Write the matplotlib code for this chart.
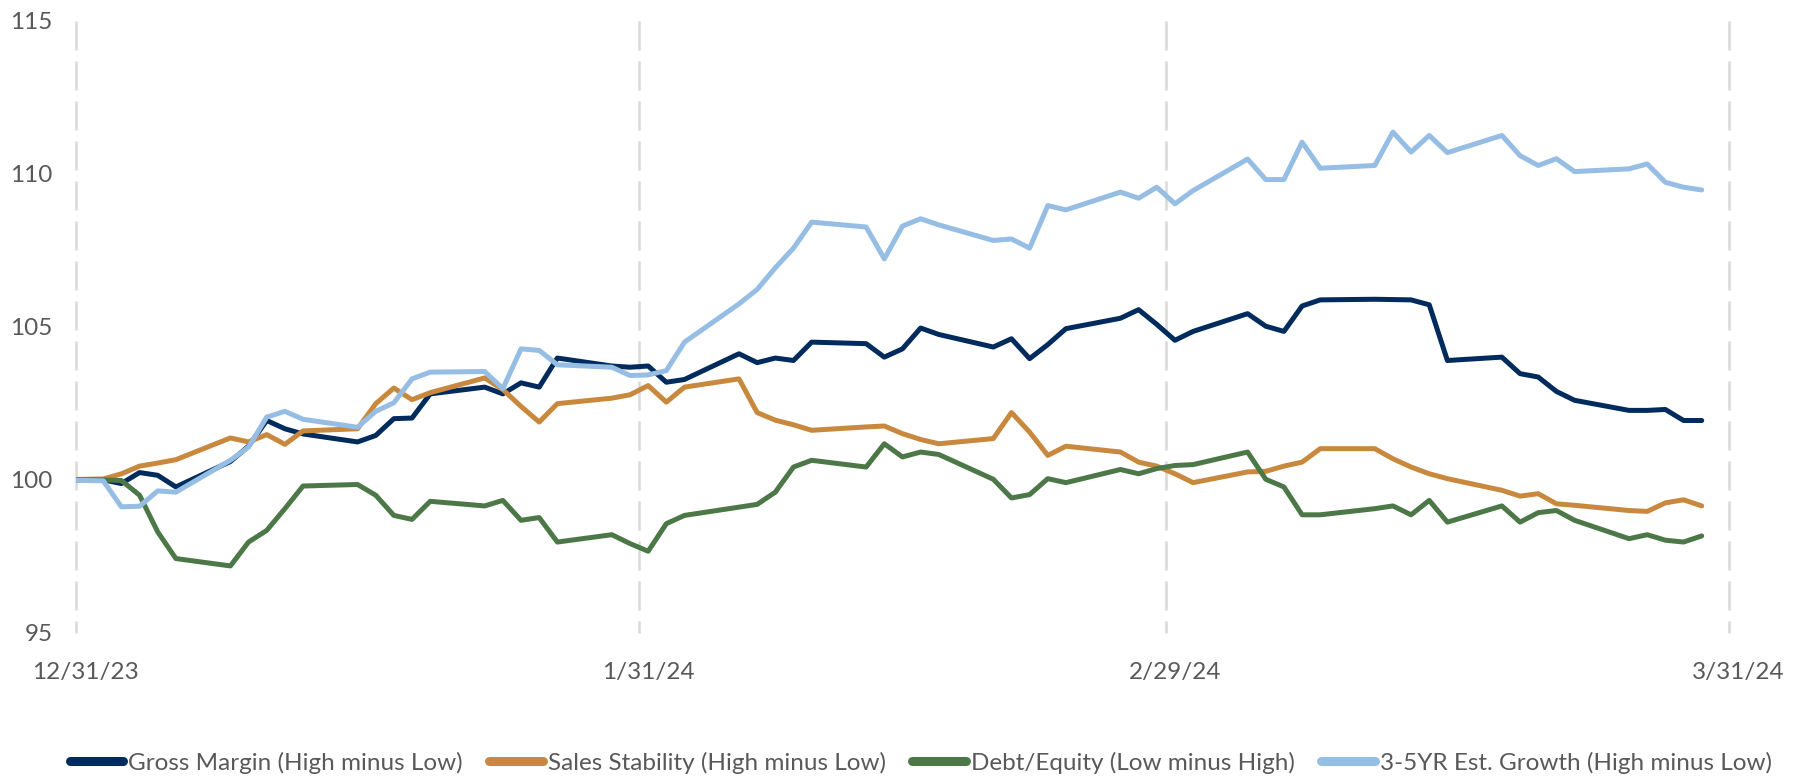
import pandas as pd
import numpy as np
import matplotlib
matplotlib.use("Agg")
import matplotlib.pyplot as plt
from matplotlib.lines import Line2D

# trading calendar: last close of 2023 + every weekday of Q1 2024
dates = pd.to_datetime(["2023-12-29"]).append(pd.bdate_range("2024-01-01", "2024-03-29"))

gross_margin = [
    100.0,
    100.0, 99.88, 100.24, 100.15, 99.77,
    100.6, 101.1, 101.94, 101.67, 101.5,
    101.24, 101.45, 102.0, 102.02, 102.81,
    103.03, 102.81, 103.17, 103.03, 103.98,
    103.72, 103.68, 103.72, 103.19, 103.28,
    104.12, 103.83, 103.98, 103.9, 104.5,
    104.45, 104.01, 104.28, 104.96, 104.75,
    104.34, 104.61, 103.96, 104.42, 104.94,
    105.28, 105.56, 105.08, 104.56, 104.85,
    105.43, 105.02, 104.85, 105.68, 105.88,
    105.9, 105.89, 105.88, 105.72, 103.9,
    104.01, 103.47, 103.36, 102.89, 102.6,
    102.27, 102.27, 102.3, 101.94, 101.94,
]
sales_stability = [
    100.0,
    100.03, 100.2, 100.45, 100.55, 100.66,
    101.37, 101.24, 101.48, 101.16, 101.6,
    101.67, 102.49, 103.0, 102.62, 102.85,
    103.33, 102.95, 102.4, 101.89, 102.49,
    102.67, 102.78, 103.08, 102.54, 103.03,
    103.3, 102.2, 101.95, 101.8, 101.62,
    101.73, 101.76, 101.51, 101.32, 101.18,
    101.35, 102.2, 101.56, 100.8, 101.1,
    100.91, 100.58, 100.45, 100.2, 99.91,
    100.26, 100.28, 100.45, 100.58, 101.02,
    101.02, 100.69, 100.42, 100.2, 100.04,
    99.66, 99.47, 99.55, 99.22, 99.17,
    99.0, 98.97, 99.25, 99.35, 99.15,
]
debt_equity = [
    100.0,
    100.0, 99.98, 99.5, 98.3, 97.43,
    97.19, 97.97, 98.35, 99.06, 99.8,
    99.85, 99.5, 98.84, 98.71, 99.3,
    99.15, 99.33, 98.68, 98.77, 97.97,
    98.21, 97.92, 97.67, 98.57, 98.84,
    99.11, 99.2, 99.6, 100.42, 100.64,
    100.42, 101.18, 100.75, 100.91, 100.83,
    100.02, 99.41, 99.52, 100.04, 99.91,
    100.34, 100.2, 100.37, 100.47, 100.5,
    100.91, 100.02, 99.77, 98.86, 98.86,
    99.06, 99.15, 98.86, 99.33, 98.62,
    99.15, 98.62, 98.93, 99.0, 98.68,
    98.08, 98.21, 98.03, 97.97, 98.17,
]
est_growth = [
    100.0,
    99.97, 99.12, 99.14, 99.64, 99.6,
    100.64, 101.07, 102.05, 102.24, 101.98,
    101.72, 102.24, 102.52, 103.3, 103.52,
    103.54, 102.98, 104.28, 104.23, 103.76,
    103.68, 103.41, 103.43, 103.57, 104.5,
    105.75, 106.22, 106.93, 107.57, 108.42,
    108.26, 107.22, 108.29, 108.53, 108.33,
    107.82, 107.87, 107.57, 108.96, 108.82,
    109.4, 109.2, 109.56, 109.02, 109.45,
    110.48, 109.81, 109.81, 111.03, 110.18,
    110.27, 111.36, 110.71, 111.25, 110.69,
    111.25, 110.59, 110.27, 110.49, 110.07,
    110.16, 110.32, 109.72, 109.56, 109.47,
]

labels = [
    "Gross Margin (High minus Low)",
    "Sales Stability (High minus Low)",
    "Debt/Equity (Low minus High)",
    "3-5YR Est. Growth (High minus Low)",
]
colors = ["#002B5C", "#C8893E", "#4C7848", "#96BDE3"]

month_ends = pd.to_datetime(["2023-12-31", "2024-01-31", "2024-02-29", "2024-03-31"])
month_labels = ["12/31/23", "1/31/24", "2/29/24", "3/31/24"]
y_ticks = [95, 100, 105, 110, 115]

plt.rcParams["font.family"] = ["Lato", "DejaVu Sans"]
text_grey = "#595959"
half_day = pd.Timedelta(hours=12)

fig = plt.figure(figsize=(18.05, 7.8), dpi=100)
ax = fig.add_axes([0.0421, 0.1885, 0.9208, 0.785])

# dashed vertical gridlines at month ends, dash pattern starting at the top
for m in month_ends:
    ax.plot([m, m], [115, 95], color="#D9D9D9", lw=1.8,
            linestyle=(0, (11.6, 4.4)), zorder=1, clip_on=False)

series = [gross_margin, sales_stability, debt_equity, est_growth]
for vals, lab, col in zip(series, labels, colors):
    ax.plot(dates + half_day, vals, color=col, lw=3.6, label=lab,
            solid_capstyle="round", solid_joinstyle="round", zorder=3)

ax.set_xlim(month_ends[0], month_ends[-1])
ax.set_ylim(95, 115)
ax.set_yticks(y_ticks)
ax.set_yticklabels([str(v) for v in y_ticks])
ax.set_xticks(month_ends + half_day)
ax.set_xticklabels(month_labels)
ax.tick_params(axis="both", length=0, labelsize=17.5, colors=text_grey)
ax.tick_params(axis="y", pad=17)
ax.tick_params(axis="x", pad=21)
for s in ax.spines.values():
    s.set_visible(False)

handles = [Line2D([0], [0], color=c, lw=6.5, solid_capstyle="round") for c in colors]
fig.legend(handles, labels, loc="center", bbox_to_anchor=(0.51, 0.022), ncol=4,
           frameon=False, fontsize=17.5, labelcolor=text_grey,
           handlelength=2.2, handletextpad=0.2, columnspacing=1.1)

fig.savefig("out.png", dpi=100)
